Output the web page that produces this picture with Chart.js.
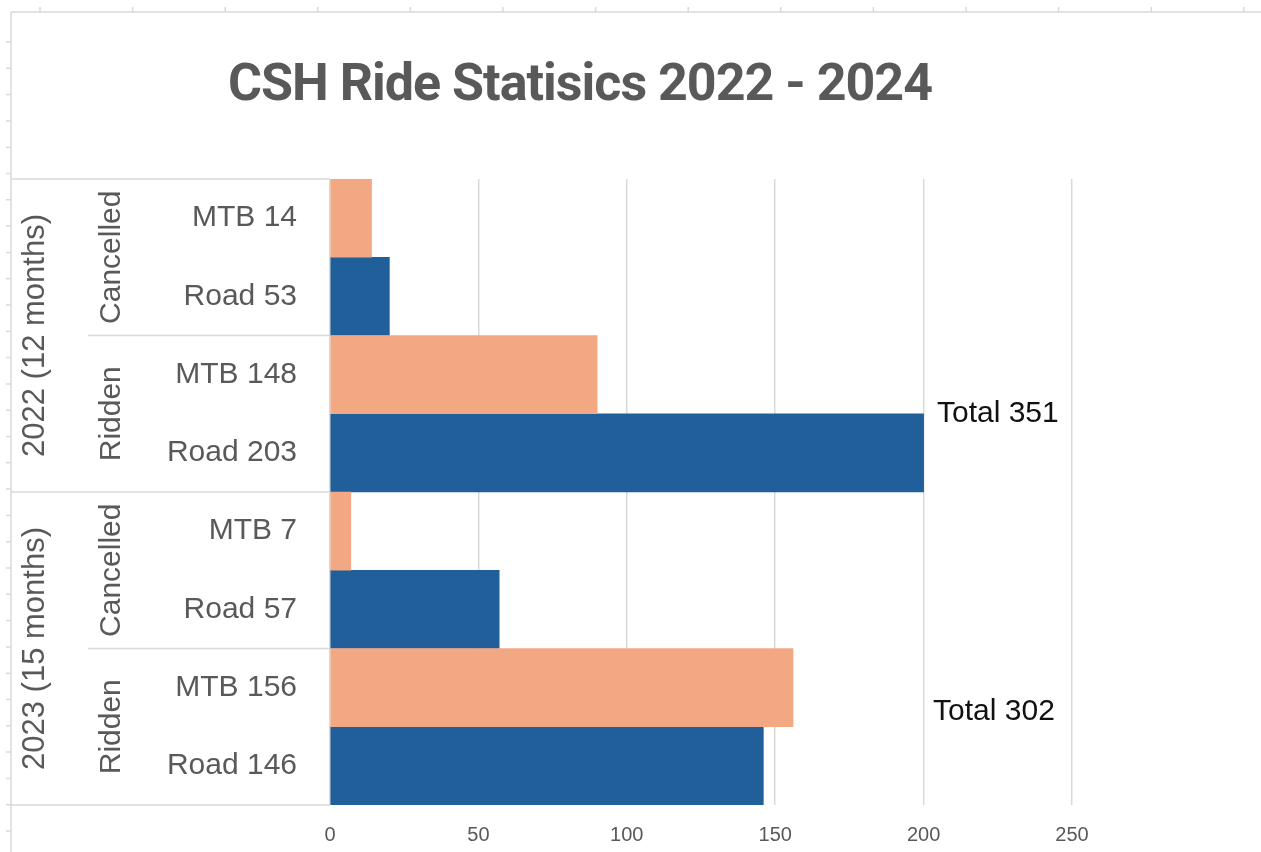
<!DOCTYPE html>
<html>
<head>
<meta charset="utf-8">
<title>CSH Ride Statisics 2022 - 2024</title>
<script src="https://cdn.jsdelivr.net/npm/chart.js@4.4.1/dist/chart.umd.min.js"></script>
<style>
  html, body { margin: 0; padding: 0; background: #fff; overflow: hidden; }
  canvas { display: block; }
</style>
</head>
<body>
<canvas id="rideChart" width="1261" height="852"></canvas>
<script>
// chart data
const titleText = 'CSH Ride Statisics 2022 - 2024';
const categories = ['MTB 14', 'Road 53', 'MTB 148', 'Road 203', 'MTB 7', 'Road 57', 'MTB 156', 'Road 146'];
const statusGroups = ['Cancelled', 'Ridden', 'Cancelled', 'Ridden'];
const yearGroups = ['2022 (12 months)', '2023 (15 months)'];
const mtbValues = [14, null, 90, null, 7, null, 156, null];
const roadValues = [null, 20, null, 200, null, 57, null, 146];
const xTicks = [0, 50, 100, 150, 200, 250];
const totalLabels = ['Total 351', 'Total 302'];

const grey = '#595959';
const lineGrey = '#d9d9d9';

// spreadsheet frame, title, grouped axis labels and total notes
const decorPlugin = {
    id: 'decor',
    beforeDraw(chart) {
        const ctx = chart.ctx;
        ctx.save();
        ctx.fillStyle = '#fff';
        ctx.fillRect(0, 0, chart.width, chart.height);
        ctx.strokeStyle = lineGrey;
        ctx.lineWidth = 1.5;
        ctx.beginPath();
        ctx.moveTo(11, 12); ctx.lineTo(chart.width, 12);
        ctx.moveTo(11, 12); ctx.lineTo(11, chart.height);
        for (let x = 40; x < chart.width; x += 92.6) {
            ctx.moveTo(x, 7); ctx.lineTo(x, 12);
        }
        for (let y = 42; y < chart.height; y += 26.3) {
            ctx.moveTo(6, y); ctx.lineTo(11, y);
        }
        ctx.stroke();
        ctx.restore();
    },
    afterDraw(chart) {
        const ctx = chart.ctx;
        const yScale = chart.scales.y;
        const xScale = chart.scales.x;
        const left = chart.chartArea.left;
        const step = yScale.getPixelForValue(1) - yScale.getPixelForValue(0);
        const edge = i => yScale.getPixelForValue(i) - step / 2;

        ctx.save();
        // title
        ctx.fillStyle = grey;
        ctx.font = 'bold 52px Roboto';
        ctx.letterSpacing = '-1px';
        ctx.textAlign = 'center';
        ctx.textBaseline = 'alphabetic';
        ctx.fillText(titleText, 580, 100);
        ctx.letterSpacing = '0px';

        // separators in the label area
        ctx.strokeStyle = lineGrey;
        ctx.lineWidth = 1.5;
        ctx.beginPath();
        for (let i = 0; i <= categories.length; i += 2) {
            const y = edge(i);
            const x0 = (i % 4 === 0) ? 11 : 88;
            ctx.moveTo(x0, y); ctx.lineTo(left, y);
        }
        ctx.stroke();

        // rotated group labels
        ctx.fillStyle = grey;
        ctx.textAlign = 'center';
        ctx.textBaseline = 'middle';
        ctx.font = '30px "Liberation Sans"';
        statusGroups.forEach((label, i) => {
            const yc = (edge(i * 2) + edge(i * 2 + 2)) / 2;
            ctx.save();
            ctx.translate(112, yc);
            ctx.rotate(-Math.PI / 2);
            ctx.fillText(label, 0, 0);
            ctx.restore();
        });
        ctx.font = '31px "Liberation Sans"';
        yearGroups.forEach((label, i) => {
            const yc = (edge(i * 4) + edge(i * 4 + 4)) / 2;
            ctx.save();
            ctx.translate(35, yc);
            ctx.rotate(-Math.PI / 2);
            ctx.fillText(label, 0, 0);
            ctx.restore();
        });

        // total notes
        ctx.fillStyle = '#111';
        ctx.font = '30px "Liberation Sans"';
        ctx.textAlign = 'left';
        ctx.fillText(totalLabels[0], xScale.getPixelForValue(204.5), yScale.getPixelForValue(2.5));
        ctx.fillText(totalLabels[1], xScale.getPixelForValue(203.2), yScale.getPixelForValue(6.31));
        ctx.restore();
    }
};

new Chart(document.getElementById('rideChart'), {
    type: 'bar',
    data: {
        labels: categories,
        datasets: [{
            label: 'MTB',
            data: mtbValues,
            backgroundColor: '#f2a883',
            borderWidth: 0,
            barPercentage: 1,
            categoryPercentage: 1
        }, {
            label: 'Road',
            data: roadValues,
            backgroundColor: '#215f9a',
            borderWidth: 0,
            barPercentage: 1,
            categoryPercentage: 1
        }]
    },
    options: {
        indexAxis: 'y',
        responsive: false,
        animation: false,
        layout: { padding: { top: 179, right: 189, left: 0, bottom: 0 } },
        plugins: {
            legend: { display: false },
            title: { display: false },
            tooltip: { enabled: false }
        },
        scales: {
            x: {
                stacked: true,
                min: xTicks[0],
                max: xTicks[xTicks.length - 1],
                afterBuildTicks: scale => { scale.ticks = xTicks.map(v => ({ value: v })); },
                afterFit: scale => { scale.height = 47; },
                border: { display: false },
                grid: { color: lineGrey, lineWidth: 1.5, drawTicks: false },
                ticks: {
                    padding: 18,
                    color: grey,
                    font: { family: '"Liberation Sans Narrow", "Liberation Sans"', size: 20 }
                }
            },
            y: {
                stacked: true,
                afterFit: scale => {
                    scale.width = 330;
                    scale.paddingTop = 0;
                    scale.paddingBottom = 0;
                },
                border: { display: false },
                grid: { display: false, drawTicks: false },
                ticks: {
                    padding: 33,
                    color: grey,
                    font: { family: '"Liberation Sans"', size: 30 }
                }
            }
        }
    },
    plugins: [decorPlugin]
});
</script>
</body>
</html>
